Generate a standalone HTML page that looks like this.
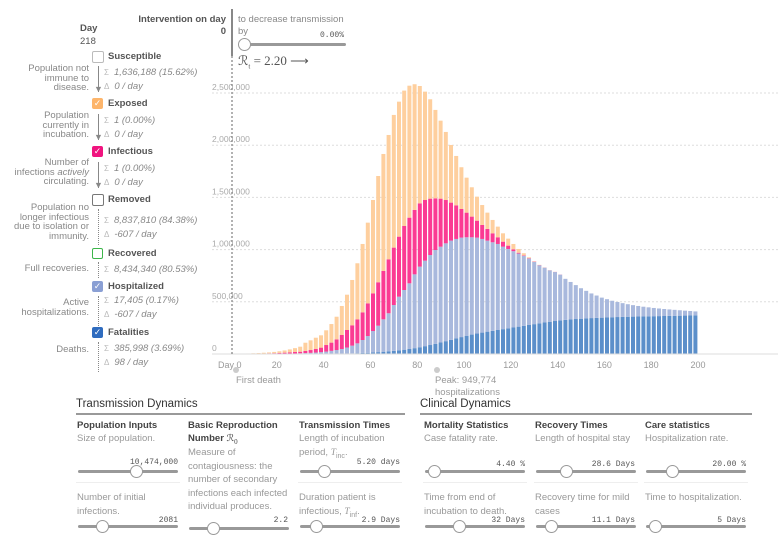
<!DOCTYPE html>
<html><head><meta charset="utf-8">
<style>
body{margin:0;width:778px;height:548px;background:#fff;overflow:hidden;font-family:"Liberation Sans",sans-serif;position:relative}
.a{position:absolute;white-space:nowrap}
.desc{position:absolute;right:689px;text-align:right;color:#888;font-size:9.5px;line-height:9.5px;white-space:nowrap}
.lab{position:absolute;left:108px;font-weight:bold;color:#555;font-size:9.5px}
.cb{position:absolute;left:92px;width:11px;height:11px;border-radius:2px;color:#fff;font-size:9px;line-height:11px;text-align:center}
.st{position:absolute;left:104px;color:#888;font-size:9.5px;font-style:italic;line-height:14px;white-space:nowrap}
.st span{font-style:normal;color:#bbb;font-size:8px;margin-right:5px}
.vl{position:absolute;left:98px;width:0}
.h{position:absolute;font-weight:bold;font-size:9.5px;color:#444;line-height:13px;white-space:nowrap}
.t{position:absolute;font-size:9.5px;color:#999;line-height:13.5px;white-space:nowrap}
.v{position:absolute;font-family:"Liberation Mono",monospace;font-size:8px;color:#555;text-align:right}
.tr{position:absolute;height:3px;background:#999;border-radius:2px}
.kn{position:absolute;width:11px;height:11px;border-radius:50%;background:#fff;border:1px solid #999;top:-5px}
.dv{position:absolute;height:1px;background:#eee}
</style></head><body>
<div class="a" style="left:80px;top:23px;font-weight:bold;font-size:9.5px;color:#555">Day</div>
<div class="a" style="left:80px;top:36px;font-size:9.5px;color:#555">218</div>

<div class="cb" style="top:51px;border:1px solid #bbb;width:10px;height:10px"></div>
<div class="lab" style="top:51px">Susceptible</div>
<div class="desc" style="top:64px">Population not<br>immune to<br>disease.</div>
<div class="vl" style="top:66px;height:26px;border-left:1px solid #888"></div>
<div class="a" style="left:94px;top:84px;font-size:9px;color:#888">▼</div>
<div class="st" style="top:66px"><span>Σ</span>1,636,188 (15.62%)<br><span>Δ</span>0 / day</div>

<div class="cb" style="top:98px;background:#fdb56b">✓</div>
<div class="lab" style="top:98px">Exposed</div>
<div class="desc" style="top:111px">Population<br>currently in<br>incubation.</div>
<div class="vl" style="top:114px;height:26px;border-left:1px solid #888"></div>
<div class="a" style="left:94px;top:132px;font-size:9px;color:#888">▼</div>
<div class="st" style="top:114px"><span>Σ</span>1 (0.00%)<br><span>Δ</span>0 / day</div>

<div class="cb" style="top:146px;background:#f0147f">✓</div>
<div class="lab" style="top:146px">Infectious</div>
<div class="desc" style="top:158px">Number of<br>infections <i>actively</i><br>circulating.</div>
<div class="vl" style="top:162px;height:26px;border-left:1px solid #888"></div>
<div class="a" style="left:94px;top:180px;font-size:9px;color:#888">▼</div>
<div class="st" style="top:162px"><span>Σ</span>1 (0.00%)<br><span>Δ</span>0 / day</div>

<div class="cb" style="top:194px;border:1px solid #777;width:10px;height:10px"></div>
<div class="lab" style="top:194px">Removed</div>
<div class="desc" style="top:203px">Population no<br>longer infectious<br>due to isolation or<br>immunity.</div>
<div class="vl" style="top:209px;height:36px;border-left:1px dotted #888"></div>
<div class="st" style="top:214px"><span>Σ</span>8,837,810 (84.38%)<br><span>Δ</span>-607 / day</div>

<div class="cb" style="top:248px;border:1.5px solid #3cb54a;width:9px;height:9px"></div>
<div class="lab" style="top:248px">Recovered</div>
<div class="desc" style="top:264px">Full recoveries.</div>
<div class="vl" style="top:262px;height:16px;border-left:1px dotted #888"></div>
<div class="st" style="top:263px"><span>Σ</span>8,434,340 (80.53%)</div>

<div class="cb" style="top:281px;background:#8a9fd4">✓</div>
<div class="lab" style="top:281px">Hospitalized</div>
<div class="desc" style="top:298px">Active<br>hospitalizations.</div>
<div class="vl" style="top:296px;height:30px;border-left:1px dotted #888"></div>
<div class="st" style="top:294px"><span>Σ</span>17,405 (0.17%)<br><span>Δ</span>-607 / day</div>

<div class="cb" style="top:327px;background:#2f6cbf">✓</div>
<div class="lab" style="top:327px">Fatalities</div>
<div class="desc" style="top:345px">Deaths.</div>
<div class="vl" style="top:342px;height:30px;border-left:1px dotted #888"></div>
<div class="st" style="top:342px"><span>Σ</span>385,998 (3.69%)<br><span>Δ</span>98 / day</div>

<div class="a" style="right:552px;top:14px;font-weight:bold;font-size:9.5px;color:#555;text-align:right;line-height:12px">Intervention on day<br>0</div>
<div class="a" style="left:231px;top:9px;width:2px;height:47px;background:#888"></div>
<div class="a" style="left:238px;top:14px;font-size:9.5px;color:#888;line-height:12px">to decrease transmission<br>by</div>
<div class="v" style="left:300px;width:44px;top:31px">0.00%</div>
<div class="tr" style="left:240px;width:106px;top:43px"><div class="kn" style="left:-2px"></div></div>
<div class="a" style="left:238px;top:53px;font-family:'Liberation Serif',serif;font-size:13px;color:#555">ℛ<sub style="font-size:7px">t</sub> = 2.20 ⟶</div>

<svg id="chart" style="position:absolute;left:0;top:0" width="778" height="400"></svg>

<div class="a" style="left:76px;top:398px;font-size:11.5px;color:#333">Transmission Dynamics</div>
<div class="a" style="left:76px;top:413px;width:329px;height:2px;background:#999"></div>
<div class="a" style="left:420px;top:398px;font-size:11.5px;color:#333">Clinical Dynamics</div>
<div class="a" style="left:420px;top:413px;width:332px;height:2px;background:#999"></div>

<div class="h" style="left:77px;top:419px">Population Inputs</div>
<div class="t" style="left:77px;top:432px">Size of population.</div>
<div class="v" style="left:118px;width:60px;top:458px">10,474,000</div>
<div class="tr" style="left:78px;width:100px;top:470px"><div class="kn" style="left:52px"></div></div>
<div class="dv" style="left:76px;width:104px;top:482px"></div>
<div class="t" style="left:77px;top:491px">Number of initial<br>infections.</div>
<div class="v" style="left:128px;width:50px;top:516px">2081</div>
<div class="tr" style="left:78px;width:100px;top:525px"><div class="kn" style="left:18px"></div></div>

<div class="h" style="left:188px;top:419px">Basic Reproduction<br>Number <span style="font-family:'Liberation Serif',serif;font-weight:normal">ℛ<sub style="font-size:7px">0</sub></span></div>
<div class="t" style="left:188px;top:446px">Measure of<br>contagiousness: the<br>number of secondary<br>infections each infected<br>individual produces.</div>
<div class="v" style="left:248px;width:40px;top:516px">2.2</div>
<div class="tr" style="left:189px;width:100px;top:527px"><div class="kn" style="left:18px"></div></div>

<div class="h" style="left:299px;top:419px">Transmission Times</div>
<div class="t" style="left:299px;top:432px">Length of incubation<br>period, <i style="font-family:'Liberation Serif',serif">T</i><sub style="font-size:7px">inc</sub>.</div>
<div class="v" style="left:340px;width:60px;top:458px">5.20 days</div>
<div class="tr" style="left:300px;width:100px;top:470px"><div class="kn" style="left:18px"></div></div>
<div class="dv" style="left:298px;width:104px;top:482px"></div>
<div class="t" style="left:299px;top:491px">Duration patient is<br>infectious, <i style="font-family:'Liberation Serif',serif">T</i><sub style="font-size:7px">inf</sub>.</div>
<div class="v" style="left:340px;width:60px;top:516px">2.9 Days</div>
<div class="tr" style="left:300px;width:100px;top:525px"><div class="kn" style="left:10px"></div></div>

<div class="h" style="left:424px;top:419px">Mortality Statistics</div>
<div class="t" style="left:424px;top:432px">Case fatality rate.</div>
<div class="v" style="left:465px;width:60px;top:460px">4.40 %</div>
<div class="tr" style="left:425px;width:100px;top:470px"><div class="kn" style="left:3px"></div></div>
<div class="dv" style="left:423px;width:104px;top:482px"></div>
<div class="t" style="left:424px;top:491px">Time from end of<br>incubation to death.</div>
<div class="v" style="left:465px;width:60px;top:516px">32 Days</div>
<div class="tr" style="left:425px;width:100px;top:525px"><div class="kn" style="left:28px"></div></div>

<div class="h" style="left:535px;top:419px">Recovery Times</div>
<div class="t" style="left:535px;top:432px">Length of hospital stay</div>
<div class="v" style="left:565px;width:70px;top:460px">28.6 Days</div>
<div class="tr" style="left:536px;width:100px;top:470px"><div class="kn" style="left:24px"></div></div>
<div class="dv" style="left:534px;width:104px;top:482px"></div>
<div class="t" style="left:535px;top:491px">Recovery time for mild<br>cases</div>
<div class="v" style="left:565px;width:70px;top:516px">11.1 Days</div>
<div class="tr" style="left:536px;width:100px;top:525px"><div class="kn" style="left:9px"></div></div>

<div class="h" style="left:645px;top:419px">Care statistics</div>
<div class="t" style="left:645px;top:432px">Hospitalization rate.</div>
<div class="v" style="left:676px;width:70px;top:460px">20.00 %</div>
<div class="tr" style="left:646px;width:100px;top:470px"><div class="kn" style="left:20px"></div></div>
<div class="dv" style="left:644px;width:104px;top:482px"></div>
<div class="t" style="left:645px;top:491px">Time to hospitalization.</div>
<div class="v" style="left:676px;width:70px;top:516px">5 Days</div>
<div class="tr" style="left:646px;width:100px;top:525px"><div class="kn" style="left:3px"></div></div>

<script>
// values in thousands, one bar per ~2.2 days
const fatalities=[0,0,0,0,0,0,0,0,0,0,0,0,0,0,0,0,0,0,0,0,2,3,4,6,8,10,12,15,18,22,26,30,35,41,48,56,65,75,86,98,110,123,136,149,162,175,186,196,205,214,222,230,238,246,254,262,270,278,286,294,302,309,316,322,327,331,335,338,341,344,346,348,350,352,354,355,357,358,359,360,361,362,363,364,365,366,367,368,369,370];
const hospitalized=[0,0,0,0,1,1,1,2,2,3,3,4,5,7,9,11,14,18,23,30,36,45,58,74,94,124,160,205,253,310,364,439,514,572,629,707,772,819,862,898,918,937,950,953,953,943,932,919,897,872,848,824,790,760,731,700,670,636,596,556,525,492,469,438,393,359,325,292,264,236,214,192,175,158,144,132,120,110,101,93,86,79,73,67,62,57,52,47,43,38];
const infectious=[1,1,2,2,2,3,4,5,6,7,10,12,14,15,20,27,34,43,63,79,102,134,168,195,230,265,313,361,416,463,517,550,575,613,629,617,606,581,540,495,460,415,364,322,274,236,198,162,134,112,86,64,48,32,18,8,5,4,3,2,1,1,1,1,0,0,0,0,0,0,0,0,0,0,0,0,0,0,0,0,0,0,0,0,0,0,0,0,0,0];
const exposed=[1,2,2,3,4,5,7,8,12,16,21,28,37,48,79,93,108,118,141,178,217,278,338,434,537,655,773,894,1018,1121,1191,1271,1293,1297,1264,1204,1124,1038,952,847,747,652,552,473,400,335,281,230,191,156,128,102,80,67,51,36,20,8,3,2,1,1,1,0,0,0,0,0,0,0,0,0,0,0,0,0,0,0,0,0,0,0,0,0,0,0,0,0,0,0];
const yTicks=[0,500000,1000000,1500000,2000000,2500000];
const yTickLabels=["0","500,000","1,000,000","1,500,000","2,000,000","2,500,000"];
const xTicks=[20,40,60,80,100,120,140,160,180,200];
const dayMax=200;

const svg=document.getElementById('chart');
const NS='http://www.w3.org/2000/svg';
const X0=230,X1=698,Y0=354,PXM=104.4;
const y=v=>Y0-v/1e6*PXM;
const xd=d=>X0+(d/dayMax)*(X1-X0);
function mk(t,a){const e=document.createElementNS(NS,t);for(const k in a)e.setAttribute(k,a[k]);svg.appendChild(e);return e;}
yTicks.forEach((v,i)=>{
  const g=mk('line',{x1:212,x2:778,y1:y(v),y2:y(v),stroke:'#ddd','stroke-dasharray':'2,2'});
  
  
  const t=mk('text',{x:212,y:y(v)-3,'font-size':'8.5',fill:'#aaa','font-family':'Liberation Sans'});
  t.textContent=yTickLabels[i];
  
  
});
const n=fatalities.length,bw=(X1-X0)/n;
const cols=['#5b8fca','#a9b9dd','#fb3b93','#fecf9e'];
for(let i=0;i<n;i++){
  const vals=[fatalities[i],hospitalized[i],infectious[i],exposed[i]];
  let acc=0;
  vals.forEach((v,k)=>{
    if(v<=0)return;
    const r=mk('rect',{x:X0+i*bw+0.6,width:bw-1.2,y:y((acc+v)*1000),height:y(acc*1000)-y((acc+v)*1000),fill:cols[k]});
    
    
    acc+=v;
  });
}
const ax=mk('line',{x1:212,x2:778,y1:Y0,y2:Y0,stroke:'#ddd'});


const dl=mk('line',{x1:232,x2:232,y1:56,y2:Y0+2,stroke:'#666','stroke-dasharray':'2,2'});


const dt=mk('text',{x:218,y:368,'font-size':'9','fill':'#999','font-family':'Liberation Sans'});
dt.textContent='Day 0';


xTicks.forEach(d=>{
  const t=mk('text',{x:xd(d),y:368,'font-size':'9',fill:'#999','text-anchor':'middle','font-family':'Liberation Sans'});
  t.textContent=d;
  
  
});
const c1=mk('circle',{cx:236,cy:370,r:3,fill:'#ccc'});


const t1=mk('text',{x:236,y:383,'font-size':'9.5',fill:'#999','font-family':'Liberation Sans'});
t1.textContent='First death';


const c2=mk('circle',{cx:437,cy:370,r:3,fill:'#ccc'});


const t2=mk('text',{x:435,y:383,'font-size':'9.5',fill:'#999','font-family':'Liberation Sans'});
t2.textContent='Peak: 949,774';


const t3=mk('text',{x:435,y:395,'font-size':'9.5',fill:'#999','font-family':'Liberation Sans'});
t3.textContent='hospitalizations';


</script>
</body></html>
